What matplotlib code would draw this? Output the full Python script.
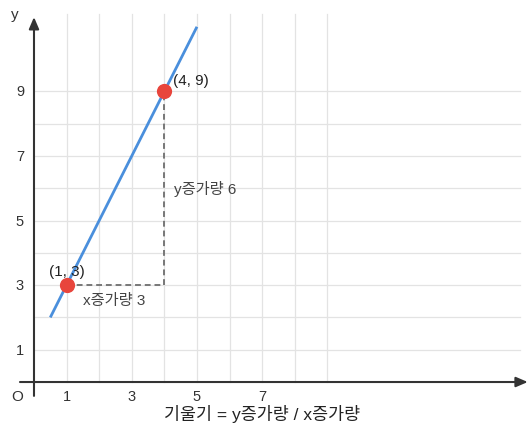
import matplotlib
matplotlib.use("Agg")
import matplotlib.pyplot as plt

plt.rcParams['font.family'] = ['Liberation Sans', 'Noto Sans CJK KR', 'DejaVu Sans']

# Line y = 2x + 1 drawn between these x values
line_x = [0.5, 5.0]
slope, intercept = 2, 1
line_y = [slope * x + intercept for x in line_x]

# Two highlighted points
pts_x = [1, 4]
pts_y = [3, 9]
pt_labels = ["(1, 3)", "(4, 9)"]

# Ticks and grid
xtick_vals = [1, 3, 5, 7]
ytick_vals = [1, 3, 5, 7, 9]
grid_x = list(range(1, 10))
grid_y = list(range(1, 10))

dx_label = "x증가량 3"
dy_label = "y증가량 6"
caption = "기울기 = y증가량 / x증가량"

fig = plt.figure(figsize=(5.32, 4.27), dpi=100)
ax = fig.add_axes([0, 0, 1, 1])
ax.set_xlim(-1.043, 15.28)
ax.set_ylim(-1.362, 11.86)
ax.set_axis_off()

grid_c = "#e3e3e3"
for gx in grid_x:
    ax.plot([gx, gx], [0, 11.4], color=grid_c, lw=0.9, zorder=1)
for gy in grid_y:
    ax.plot([0, 14.9], [gy, gy], color=grid_c, lw=0.9, zorder=1)

axis_c = "#333333"
ax.annotate("", xy=(15.15, 0), xytext=(-0.43, 0),
            arrowprops=dict(arrowstyle="-|>,head_length=0.7,head_width=0.3",
                            color=axis_c, lw=1.5, shrinkA=0, shrinkB=0), zorder=3)
ax.annotate("", xy=(0, 11.3), xytext=(0, -0.43),
            arrowprops=dict(arrowstyle="-|>,head_length=0.7,head_width=0.3",
                            color=axis_c, lw=1.5, shrinkA=0, shrinkB=0), zorder=3)

tick_c = "#333333"
for tx in xtick_vals:
    ax.text(tx, -0.43, str(tx), ha="center", va="center", fontsize=10.5, color=tick_c)
for ty in ytick_vals:
    ax.text(-0.43, ty, str(ty), ha="center", va="center", fontsize=10.5, color=tick_c)
ax.text(-0.52, -0.43, "O", ha="center", va="center", fontsize=11, color=tick_c)
ax.text(-0.58, 11.4, "y", ha="center", va="center", fontsize=11, color=tick_c)

# Run / rise guides
dash_c = "#777777"
ax.plot([pts_x[0], pts_x[1]], [pts_y[0], pts_y[0]], color=dash_c, lw=1.4,
        ls=(0, (3, 2)), zorder=2)
ax.plot([pts_x[1], pts_x[1]], [pts_y[0], pts_y[1]], color=dash_c, lw=1.4,
        ls=(0, (3, 2)), zorder=2)

ax.plot(line_x, line_y, color="#4a8fdc", lw=2.0, solid_capstyle="butt", zorder=4)
ax.scatter(pts_x, pts_y, s=120, color="#e8453c", zorder=5, linewidths=0)

ax.text(pts_x[0], pts_y[0] + 0.45, pt_labels[0], ha="center", va="center",
        fontsize=11, color="#222222", zorder=6)
ax.text(pts_x[1] + 0.25, pts_y[1] + 0.35, pt_labels[1], ha="left", va="center",
        fontsize=11, color="#222222", zorder=6)

ax.text(1.5, 2.55, dx_label, ha="left", va="center", fontsize=11, color="#444444")
ax.text(4.3, 6.0, dy_label, ha="left", va="center", fontsize=11, color="#444444")

ax.text(7.0, -0.95, caption, ha="center", va="center", fontsize=12.5, color="#222222")

fig.savefig("out.png", dpi=100)
